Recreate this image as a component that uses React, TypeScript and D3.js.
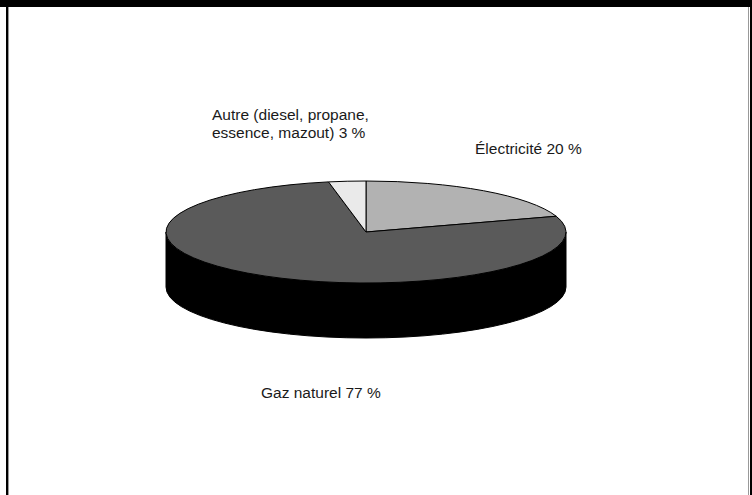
import React from "react";
import * as d3 from "d3";

const categories = ["Électricité", "Gaz naturel", "Autre (diesel, propane, essence, mazout)"];
const values = [20, 77, 3];
const labelLines = [["Électricité 20 %"], ["Gaz naturel 77 %"], ["Autre (diesel, propane,", "essence, mazout) 3 %"]];
const colors = ["#b2b2b2", "#5a5a5a", "#eaeaea"];

const W = 752, H = 495;
const cx = 366, cy = 232, rx = 200, ry = 51, depth = 55;
const labelPos = [
  { x: 475, y: 154 },
  { x: 261, y: 398 },
  { x: 212, y: 120 },
];

function pt(a: number, dy = 0): [number, number] {
  return [cx + rx * Math.sin(a), cy + dy - ry * Math.cos(a)];
}

export default function App() {
  const pie = d3.pie<number>().sort(null).startAngle(0).endAngle(2 * Math.PI);
  const arcs = pie(values);

  const sidePath = `M${cx - rx},${cy} A${rx},${ry} 0 0 0 ${cx + rx},${cy} L${cx + rx},${cy + depth} A${rx},${ry} 0 0 1 ${cx - rx},${cy + depth} Z`;

  const slicePath = (a0: number, a1: number) => {
    const p0 = pt(a0), p1 = pt(a1);
    const large = a1 - a0 > Math.PI ? 1 : 0;
    return `M${cx},${cy} L${p0[0]},${p0[1]} A${rx},${ry} 0 ${large} 1 ${p1[0]},${p1[1]} Z`;
  };

  return (
    <svg width={W} height={H} style={{ position: "absolute", left: 0, top: 0, background: "#fff" }}
      fontFamily="'Liberation Sans', Arial, sans-serif">
      <rect x={0} y={0} width={W} height={7} fill="#000" />
      <rect x={6} y={0} width={2} height={H} fill="#000" />
      <rect x={8} y={7} width={1} height={H} fill="#999" />
      <rect x={748} y={7} width={1} height={H} fill="#999" />
      <rect x={750} y={0} width={2} height={H} fill="#000" />

      <path d={sidePath} fill="#000" stroke="#000" strokeWidth={1} />
      {arcs.map((a, i) => (
        <path key={categories[i]} d={slicePath(a.startAngle, a.endAngle)} fill={colors[i]} stroke="#000" strokeWidth={1} strokeLinejoin="round" />
      ))}

      {labelLines.map((lines, i) => (
        <text key={i} x={labelPos[i].x} y={labelPos[i].y} fontSize={15.5} fill="#1a1a1a">
          {lines.map((l, j) => (
            <tspan key={j} x={labelPos[i].x} dy={j === 0 ? 0 : 18}>{l}</tspan>
          ))}
        </text>
      ))}
    </svg>
  );
}
